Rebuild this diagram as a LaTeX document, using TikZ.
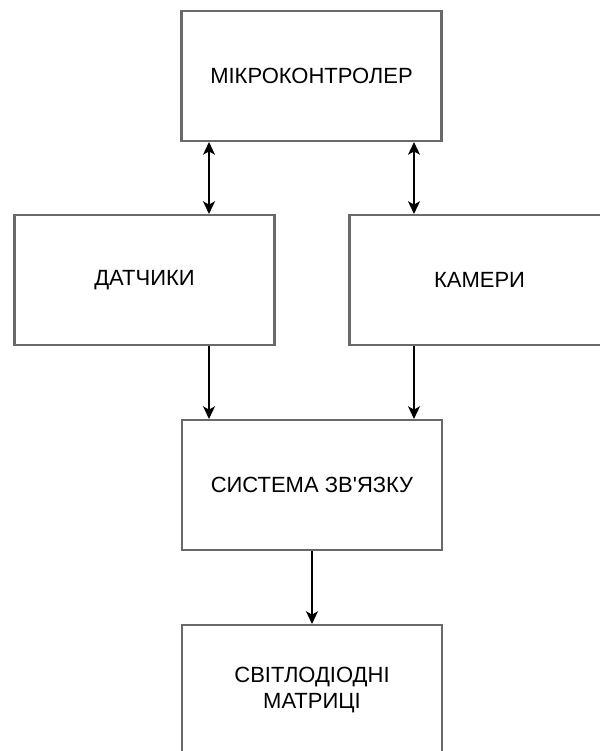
\documentclass[tikz,border=0pt]{standalone}
\usepackage{fontspec}
\newfontfamily\plainsans{Liberation Sans}
\usetikzlibrary{arrows.meta}
\definecolor{boxgray}{RGB}{105,105,105}
\begin{document}
\begin{tikzpicture}[x=0.75pt,y=-0.75pt,
  blk/.style={draw=boxgray,line width=1.6pt,fill=white,rectangle,
    minimum width=195pt,minimum height=97.5pt,inner sep=0pt,
    align=center,font=\plainsans\fontsize{16.5}{19.5}\selectfont},
  conn/.style={line width=1.1pt,black}]
\useasboundingbox (0,0) rectangle (600,751);
\node[blk] (mk) at (311.5,76) {МІКРОКОНТРОЛЕР};
\node[blk] (dat) at (144.5,280) {ДАТЧИКИ};
\node[blk] (kam) at (479.5,280) {КАМЕРИ};
\node[blk] (sys) at (312,485) {СИСТЕМА ЗВ'ЯЗКУ};
\node[blk] (led) at (312,690) {СВІТЛОДІОДНІ\\МАТРИЦІ};
\coordinate (xl) at (209,0);
\coordinate (xr) at (414,0);
\draw[conn,{Stealth[length=9.5pt,width=9pt,inset=2.5pt]}-{Stealth[length=9.5pt,width=9pt,inset=2.5pt]}] (mk.south -| xl) -- (dat.north -| xl);
\draw[conn,{Stealth[length=9.5pt,width=9pt,inset=2.5pt]}-{Stealth[length=9.5pt,width=9pt,inset=2.5pt]}] (mk.south -| xr) -- (kam.north -| xr);
\draw[conn,-{Stealth[length=9.5pt,width=9pt,inset=2.5pt]}] (dat.south -| xl) -- (sys.north -| xl);
\draw[conn,-{Stealth[length=9.5pt,width=9pt,inset=2.5pt]}] (kam.south -| xr) -- (sys.north -| xr);
\draw[conn,-{Stealth[length=9.5pt,width=9pt,inset=2.5pt]}] (sys.south) -- (led.north);
\end{tikzpicture}
\end{document}
